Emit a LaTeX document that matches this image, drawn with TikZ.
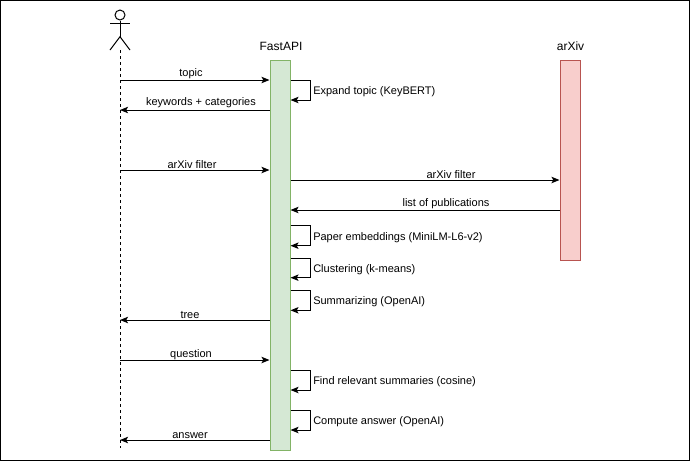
\documentclass[tikz,border=0pt]{standalone}
\usepackage{fontspec}
\setmainfont{Liberation Sans}
\usetikzlibrary{arrows.meta}
\definecolor{gfill}{HTML}{D5E8D4}
\definecolor{gline}{HTML}{82B366}
\definecolor{rfill}{HTML}{F8CECC}
\definecolor{rline}{HTML}{B85450}
\tikzset{
  msg/.style={draw=black, line width=0.75pt, -{Stealth[length=6pt,width=4.8pt,inset=1.3pt]}},
  lbl/.style={font=\fontsize{8.25}{9.9}\selectfont, inner sep=0pt, anchor=base},
  slbl/.style={lbl, anchor=base west},
  hdr/.style={font=\fontsize{9}{10.8}\selectfont, inner sep=0pt, anchor=base},
  gbox/.style={draw=gline, fill=gfill, line width=0.75pt, minimum width=15pt, inner sep=0pt},
  rbox/.style={draw=rline, fill=rfill, line width=0.75pt, minimum width=15pt, inner sep=0pt},
  stick/.style={draw=black, line width=0.75pt},
  lifeline/.style={draw=black, line width=0.75pt, dash pattern=on 2.25pt off 2.25pt},
  frame/.style={draw=black, line width=0.75pt}
}
\begin{document}
\begin{tikzpicture}[x=0.75pt,y=-0.75pt]
\useasboundingbox (0,0) rectangle (691,462);
\draw[frame] (0.8,0.8) rectangle (689.5,460.3);

% actor
\node[stick, circle, minimum size=7.5pt, inner sep=0pt] (head) at (120,15) {};
\coordinate (neck) at (120,20);
\coordinate (hip) at (120,36.7);
\coordinate (armL) at (110,23.3);
\coordinate (armR) at (130,23.3);
\coordinate (legL) at (110,50);
\coordinate (legR) at (130,50);
\draw[stick] (head.south) -- (hip);
\draw[stick] (armL) -- (armR);
\draw[stick] (legL) -- (hip) -- (legR);
\coordinate (lifeEnd) at (120,448);
\draw[lifeline] (120,50) -- (lifeEnd);

% participants
\node[hdr] (fahdr) at (281,50) {FastAPI};
\node[hdr] (axhdr) at (570.5,50) {arXiv};
\node[gbox, minimum height=292.5pt] (fa) at (280,255) {};
\node[rbox, minimum height=150pt] (ax) at (570,160) {};

% lifeline points
\coordinate (u1) at (120,80);
\coordinate (u2) at (120,110);
\coordinate (u3) at (120,170);
\coordinate (u4) at (120,320);
\coordinate (u5) at (120,360);
\coordinate (u6) at (120,440);
\coordinate (r1) at (425,180);
\coordinate (r2) at (425,210);

% messages user <-> FastAPI
\draw[msg] (u1) -- (fa.west |- u1);
\node[lbl] (l1) at (191,76) {topic};
\draw[msg] (fa.west |- u2) -- (u2);
\node[lbl] (l2) at (201,105.3) {keywords + categories};
\draw[msg] (u3) -- (fa.west |- u3);
\node[lbl] (l3) at (192,168.3) {arXiv filter};

% FastAPI <-> arXiv
\draw[msg] (fa.east |- r1) -- (ax.west |- r1);
\node[lbl] (l4) at (451,178) {arXiv filter};
\draw[msg] (ax.west |- r2) -- (fa.east |- r2);
\node[lbl] (l5) at (446,206.4) {list of publications};

\draw[msg] (fa.west |- u4) -- (u4);
\node[lbl] (l6) at (190,318.3) {tree};
\draw[msg] (u5) -- (fa.west |- u5);
\node[lbl] (l7) at (191,357.8) {question};
\draw[msg] (fa.west |- u6) -- (u6);
\node[lbl] (l8) at (190,438.7) {answer};

% self loops
\coordinate (s1a) at (310,80);    \coordinate (s1b) at (310,100);
\coordinate (s2a) at (310,225.7); \coordinate (s2b) at (310,245.7);
\coordinate (s3a) at (310,258.3); \coordinate (s3b) at (310,277.7);
\coordinate (s4a) at (310,290.7); \coordinate (s4b) at (310,310.3);
\coordinate (s5a) at (310,370.3); \coordinate (s5b) at (310,390);
\coordinate (s6a) at (310,410);   \coordinate (s6b) at (310,430);
\foreach \s in {s1,s2,s3,s4,s5,s6}{
  \draw[msg] (fa.east |- \s a) -- (\s a) -- (\s b) -- (fa.east |- \s b);
}
\node[slbl] (e1) at (313,94.3) {Expand topic (KeyBERT)};
\node[slbl] (e2) at (313,240) {Paper embeddings (MiniLM-L6-v2)};
\node[slbl] (e3) at (313,272.3) {Clustering (k-means)};
\node[slbl] (e4) at (313,304.8) {Summarizing (OpenAI)};
\node[slbl] (e5) at (313,384.5) {Find relevant summaries (cosine)};
\node[slbl] (e6) at (313,424.5) {Compute answer (OpenAI)};
\end{tikzpicture}
\end{document}
